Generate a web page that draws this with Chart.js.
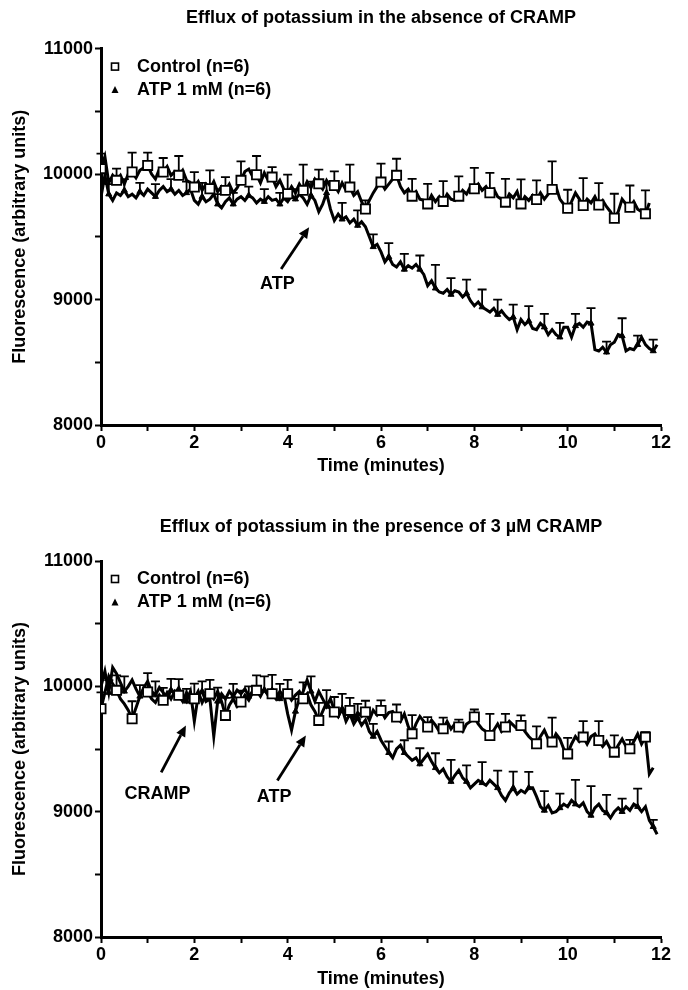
<!DOCTYPE html>
<html>
<head>
<meta charset="utf-8">
<script src="https://cdn.jsdelivr.net/npm/chart.js@4"></script>
<style>
  body { margin: 0; background: #fff; }
  canvas { display: block; }
</style>
</head>
<body>
<canvas id="absence" width="688" height="495"></canvas>
<canvas id="presence" width="688" height="495"></canvas>
<script>
// one reading every 5 s, in minutes
const step = 5 / 60;

// ---- top panel: no CRAMP ----
const ctrlAbs = [
  10043, 10140, 9930, 9990,  9950, 9990, 9920, 10000,  10016, 9970, 10030, 10050,
  10069, 10000, 9960, 10040,  10016, 10060, 9990, 10020,  9990, 10030, 9950, 9930,
  9896, 9940, 9870, 9920,  9883, 9940, 9860, 9900,  9870, 9920, 9850, 9890,
  9950, 10020, 10040, 9980,  9995, 9930, 10010, 9950,  9976, 9900, 9950, 9880,
  9843, 9900, 9850, 9920,  9870, 9940, 9890, 9960,  9922, 9880, 9950, 9900,
  9909, 9860, 9930, 9870,  9896, 9830, 9860, 9780,  9722, 9790, 9850, 9900,
  9936, 9880, 9920, 9960,  9990, 9900, 9850, 9880,  9824, 9860, 9800, 9790,
  9762, 9830, 9780, 9820,  9782, 9840, 9800, 9790,  9824, 9870, 9840, 9900,
  9883, 9920, 9870, 9900,  9851, 9880, 9820, 9800,  9776, 9840, 9810, 9860,
  9762, 9820, 9790, 9830,  9797, 9850, 9800, 9840,  9878, 9900, 9800, 9760,
  9728, 9780, 9850, 9800,  9750, 9800, 9770, 9820,  9754, 9790, 9740, 9700,
  9648, 9700, 9800, 9760,  9736, 9780, 9720, 9700,  9683, 9770
];
const ctrlAbsSem = [
  120, 93, 155, 102, 112, 154, 120, 147, 106, 151, 149, 80,
  152, 205, 113, 113, 179, 68, 147, 132, 138, 160, 162, 157,
  167, 159, 186, 195, 152, 223, 147, 218, 174, 195, 173, 187
];
const atpAbs = [
  9820, 9990, 9840, 9790,  9850, 9830, 9870, 9820,  9840, 9810, 9860, 9830,
  9880, 9850, 9820, 9870,  9900, 9860, 9880, 9840,  9870, 9830, 9850, 9880,
  9790, 9760, 9820, 9780,  9800, 9840, 9760, 9730,  9780, 9810, 9760, 9800,
  9820, 9790, 9830, 9810,  9770, 9800, 9780, 9820,  9790, 9800, 9760, 9810,
  9780, 9830, 9800, 9840,  9810, 9760, 9830, 9790,  9700, 9760, 9850, 9720,
  9630, 9680, 9640, 9660,  9610, 9640, 9590, 9620,  9580, 9500, 9420, 9440,
  9380, 9300, 9340, 9280,  9260, 9300, 9240, 9270,  9250, 9280, 9240, 9200,
  9110, 9150, 9090, 9060,  9050, 9080, 9040, 9070,  9060, 9020, 9050, 8990,
  8950, 8980, 8940, 8920,  8900, 8930, 8880, 8910,  8870, 8840, 8860, 8760,
  8840, 8800, 8830, 8770,  8760, 8810, 8780, 8720,  8760, 8720, 8700, 8780,
  8780, 8700, 8790, 8810,  8780, 8820, 8810, 8600,  8590, 8620, 8580, 8640,
  8660, 8720, 8710, 8590,  8610, 8600, 8640, 8700,  8640, 8610, 8590, 8640
];
const atpAbsSem = [
  80, 90, 70, 100, 80, 90, 110, 80, 90, 70, 100, 90,
  80, 110, 90, 130, 120, 100, 110, 124, 111, 186, 130, 109,
  140, 120, 100, 117, 106, 114, 96, 121, 85, 141, 73, 91
];

// ---- bottom panel: 3 uM CRAMP ----
const ctrlCramp = [
  9821, 9950, 10080, 10020,  9968, 9900, 9860, 9810,  9741, 9830, 9920, 9980,
  9955, 9900, 9870, 9930,  9888, 9950, 9900, 9960,  9928, 9880, 9950, 9910,
  9901, 9960, 9870, 9930,  9941, 9900, 9960, 9880,  9768, 9850, 9900, 9840,
  9875, 9930, 9890, 9950,  9968, 9920, 9980, 9930,  9941, 9900, 9960, 9920,
  9941, 9890, 9930, 9960,  9901, 9940, 9850, 9800,  9728, 9800, 9870, 9820,
  9795, 9760, 9830, 9780,  9808, 9740, 9790, 9760,  9795, 9730, 9810, 9770,
  9808, 9750, 9790, 9800,  9755, 9720, 9780, 9680,  9621, 9700, 9760, 9720,
  9675, 9730, 9690, 9640,  9661, 9720, 9660, 9700,  9675, 9640, 9700, 9720,
  9755, 9700, 9660, 9640,  9608, 9650, 9700, 9640,  9675, 9720, 9690, 9660,
  9688, 9640, 9600, 9570,  9541, 9600, 9650, 9580,  9555, 9620, 9580, 9500,
  9461, 9540, 9600, 9560,  9595, 9540, 9600, 9620,  9568, 9520, 9560, 9500,
  9475, 9530, 9580, 9520,  9501, 9560, 9620, 9540,  9595, 9300, 9350
];
const ctrlCrampSem = [
  130, 120, 140, 150, 100, 130, 120, 110, 140, 90, 120, 150,
  110, 130, 140, 120, 100, 90, 80, 100, 150, 80, 90, 60,
  60, 173, 106, 80, 139, 195, 128, 127, 154, 133, 72, 40
];
const atpCramp = [
  10000, 10120, 9950, 10150,  10100, 10030, 9960, 10000,  10050, 9980, 9920, 9990,
  10040, 9960, 9930, 9990,  9950, 9900, 9970, 9940,  9990, 9920, 9880, 9960,
  9720, 9930, 9960, 9880,  9900, 9600, 9880, 9940,  9900, 9960, 9920, 9970,
  9940, 9980, 9920, 9960,  9990, 9940, 9970, 9930,  9980, 9950, 9900, 9940,
  9780, 9650, 9800, 9900,  9960, 10050, 9960, 9880,  9960, 9900, 9840, 9900,
  9810, 9760, 9820, 9720,  9780, 9700, 9750, 9690,  9730, 9640, 9600, 9640,
  9570, 9520, 9470, 9430,  9500, 9530, 9470, 9440,  9410, 9430, 9380, 9420,
  9460, 9400, 9350, 9310,  9340, 9280, 9240, 9290,  9330, 9270, 9240, 9190,
  9220, 9250, 9230, 9210,  9250, 9220, 9190, 9130,  9090, 9150, 9190, 9140,
  9170, 9150, 9190, 9190,  9120, 9040, 9010, 9050,  8990, 9000, 9030, 9060,
  9040, 9090, 9060, 9040,  9070, 9000, 8970, 9030,  9060, 9010, 8990, 8950,
  9000, 9030, 9000, 9040,  9010, 9060, 9040, 9000,  9040, 8930, 8880, 8820
];
const atpCrampSem = [
  100, 120, 90, 110, 90, 100, 80, 110, 100, 80, 110, 120,
  100, 120, 130, 120, 110, 100, 90, 100, 126, 116, 173, 130,
  165, 138, 130, 128, 154, 114, 194, 234, 144, 104, 144, 54
];

const seriesNames = ['Control (n=6)', 'ATP 1 mM (n=6)'];
const yTicks = [8000, 9000, 10000, 11000];
const xTicks = [0, 2, 4, 6, 8, 10, 12];

Chart.defaults.font.family = '"Liberation Sans", Arial, Helvetica, sans-serif';
Chart.defaults.font.size = 18;
Chart.defaults.font.weight = 'bold';
Chart.defaults.color = '#000';

const toPoints = vals => vals.map((v, i) => ({ x: i * step, y: v }));
// a symbol + error bar is shown on every 4th reading
const markerPoints = (vals, sem, offset) => sem.map((s, k) => {
  const i = offset + 4 * k;
  return { x: i * step, y: vals[i] };
});

const errorBars = {
  id: 'errorBars',
  beforeDatasetsDraw(chart) {
    const { ctx, scales: { x, y } } = chart;
    ctx.save();
    ctx.strokeStyle = '#000';
    ctx.lineWidth = 1.8;
    chart.data.datasets.forEach(ds => {
      if (!ds.sem) return;
      ds.data.forEach((p, i) => {
        const px = x.getPixelForValue(p.x);
        const py = y.getPixelForValue(p.y);
        const top = y.getPixelForValue(p.y + ds.sem[i]);
        ctx.beginPath();
        ctx.moveTo(px, py);
        ctx.lineTo(px, top);
        ctx.moveTo(px - 4.5, top);
        ctx.lineTo(px + 4.5, top);
        ctx.stroke();
      });
    });
    ctx.restore();
  }
};

const innerLegend = {
  id: 'innerLegend',
  afterDraw(chart) {
    const { ctx, chartArea } = chart;
    const items = chart.data.datasets.filter(d => d.sem);
    ctx.save();
    ctx.font = 'bold 18px "Liberation Sans", Arial, sans-serif';
    ctx.textBaseline = 'middle';
    ctx.fillStyle = '#000';
    ctx.strokeStyle = '#000';
    items.forEach((d, i) => {
      const cx = chartArea.left + 14;
      const cy = chartArea.top + 18 + i * 23.5;
      if (d.pointStyle === 'rect') {
        ctx.lineWidth = 1.6;
        ctx.strokeRect(cx - 3.5, cy - 3.5, 7, 7);
      } else {
        ctx.beginPath();
        ctx.moveTo(cx, cy - 4);
        ctx.lineTo(cx + 3.5, cy + 3);
        ctx.lineTo(cx - 3.5, cy + 3);
        ctx.closePath();
        ctx.fill();
      }
      ctx.fillText(d.label, chartArea.left + 36, cy);
    });
    ctx.restore();
  }
};

function arrowNotes(notes) {
  return {
    id: 'arrowNotes',
    afterDatasetsDraw(chart) {
      const { ctx, scales: { x, y } } = chart;
      ctx.save();
      ctx.fillStyle = '#000';
      ctx.strokeStyle = '#000';
      ctx.font = 'bold 18px "Liberation Sans", Arial, sans-serif';
      ctx.textAlign = 'center';
      ctx.textBaseline = 'middle';
      notes.forEach(n => {
        const x0 = x.getPixelForValue(n.from[0]), y0 = y.getPixelForValue(n.from[1]);
        const x1 = x.getPixelForValue(n.to[0]), y1 = y.getPixelForValue(n.to[1]);
        const ang = Math.atan2(y1 - y0, x1 - x0);
        const bx = x1 - 11 * Math.cos(ang), by = y1 - 11 * Math.sin(ang);
        ctx.lineWidth = 2.8;
        ctx.beginPath();
        ctx.moveTo(x0, y0);
        ctx.lineTo(bx, by);
        ctx.stroke();
        ctx.beginPath();
        ctx.moveTo(x1, y1);
        ctx.lineTo(bx + 5 * Math.sin(ang), by - 5 * Math.cos(ang));
        ctx.lineTo(bx - 5 * Math.sin(ang), by + 5 * Math.cos(ang));
        ctx.closePath();
        ctx.fill();
        ctx.fillText(n.text, x.getPixelForValue(n.at[0]), y.getPixelForValue(n.at[1]));
      });
      ctx.restore();
    }
  };
}

function makeChart(id, title, ctrl, ctrlSem, atp, atpSem, notes, lay) {
  const lineStyle = { borderColor: '#000', borderWidth: 3, pointRadius: 0, tension: 0, order: 2 };
  return new Chart(document.getElementById(id), {
    type: 'line',
    data: {
      datasets: [
        { ...lineStyle, data: toPoints(ctrl) },
        { ...lineStyle, data: toPoints(atp) },
        {
          label: seriesNames[0], data: markerPoints(ctrl, ctrlSem, 0), sem: ctrlSem,
          showLine: false, pointStyle: 'rect', pointRadius: 6.5,
          pointBackgroundColor: '#fff', pointBorderColor: '#000', pointBorderWidth: 1.8, order: 0
        },
        {
          label: seriesNames[1], data: markerPoints(atp, atpSem, 2), sem: atpSem,
          showLine: false, pointStyle: 'triangle', pointRadius: 3.5,
          pointBackgroundColor: '#000', pointBorderColor: '#000', pointBorderWidth: 1, order: 1
        }
      ]
    },
    options: {
      responsive: false,
      animation: false,
      events: [],
      layout: { padding: { left: 0, right: 27, top: 0, bottom: 0 } },
      plugins: {
        legend: { display: false },
        tooltip: { enabled: false },
        title: { display: true, fullSize: false, text: title,
                 font: { size: 18, weight: 'bold' }, padding: lay.title }
      },
      scales: {
        x: {
          type: 'linear', min: 0, max: 12,
          border: { display: true, color: '#000', width: 3 },
          grid: { drawOnChartArea: false, tickLength: 6, tickWidth: 2, tickColor: '#000' },
          ticks: { stepSize: 1, autoSkip: false, padding: 1, maxRotation: 0,
                   callback: v => xTicks.includes(v) ? v : '' },
          title: { display: true, text: 'Time (minutes)', padding: { top: 0, bottom: lay.xTitle } },
          afterFit: s => { s.height = lay.xHeight; }
        },
        y: {
          min: 8000, max: 11000,
          border: { display: true, color: '#000', width: 3 },
          grid: { drawOnChartArea: false, tickLength: 6, tickWidth: 2, tickColor: '#000' },
          ticks: { stepSize: 500, autoSkip: false, padding: 2,
                   callback: v => yTicks.includes(v) ? String(v) : '' },
          title: { display: true, text: 'Fluorescence (arbitrary units)', padding: { top: 9, bottom: 0 } },
          afterFit: s => { s.width = 101; }
        }
      }
    },
    plugins: [errorBars, innerLegend, arrowNotes(notes)]
  });
}

makeChart('absence', 'Efflux of potassium in the absence of CRAMP',
  ctrlAbs, ctrlAbsSem, atpAbs, atpAbsSem,
  [{ text: 'ATP', at: [3.78, 9124], from: [3.86, 9244], to: [4.46, 9577] }],
  { title: { top: 7, bottom: 20 }, xHeight: 70, xTitle: 18 });

makeChart('presence', 'Efflux of potassium in the presence of 3 \u00b5M CRAMP',
  ctrlCramp, ctrlCrampSem, atpCramp, atpCrampSem,
  [{ text: 'CRAMP', at: [1.21, 9141], from: [1.29, 9314], to: [1.82, 9688] },
   { text: 'ATP', at: [3.71, 9114], from: [3.78, 9248], to: [4.39, 9608] }],
  { title: { top: 21, bottom: 23.4 }, xHeight: 53, xTitle: 0 });
</script>
</body>
</html>
